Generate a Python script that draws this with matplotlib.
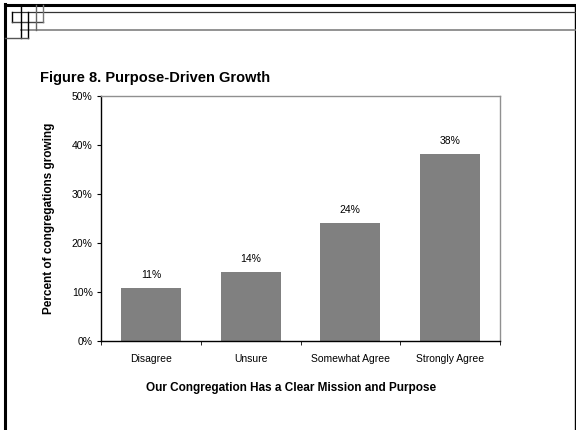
import matplotlib
matplotlib.use('Agg')
import matplotlib.pyplot as plt
from matplotlib.lines import Line2D
import numpy as np

plt.rcParams['font.family'] = ['Liberation Sans', 'DejaVu Sans']

# data
categories = ['Disagree', 'Unsure', 'Somewhat Agree', 'Strongly Agree']
growing = [10.9, 14.1, 24.1, 38.2]
yticks = [0, 10, 20, 30, 40, 50]

W, H = 576, 430
fig = plt.figure(figsize=(W / 100, H / 100), dpi=100)

# pixel -> figure coords helper for the frame decoration
def line(x0, y0, x1, y1, c='black', lw=1.0):
    fig.add_artist(Line2D([x0 / W, x1 / W], [1 - y0 / H, 1 - y1 / H],
                          color=c, lw=lw, transform=fig.transFigure))

# page frame
line(5, 5, 575, 5, lw=2.2)
line(5, 4, 5, 430, lw=2.2)
line(575, 5, 575, 430, lw=1.0)
line(12, 12, 575, 12, c='#333333', lw=0.9)
line(21, 30, 575, 30, c='#808080', lw=1.2)
# small squares in the corner
line(12, 12, 12, 22)
line(12, 22, 43, 22, c='#444444')
line(21, 5, 21, 38)
line(28, 12, 28, 38)
line(36, 5, 36, 30, c='#666666')
line(43, 5, 43, 22, c='#777777')
line(5, 38, 28, 38, c='#555555')

fig.text(40 / W, 1 - 78 / H, 'Figure 8. Purpose-Driven Growth',
         fontsize=10.5, fontweight='bold', va='center', ha='left')

ax = fig.add_axes([101 / W, 1 - 341 / H, 399 / W, 245 / H])
x = np.arange(len(categories))
bars = ax.bar(x, growing, width=0.6, color='#808080', zorder=2)
for b, v in zip(bars, growing):
    ax.annotate('%d%%' % round(v), (b.get_x() + b.get_width() / 2, v),
                xytext=(0, 5.5), textcoords='offset points',
                ha='center', va='bottom', fontsize=7.5)

ax.set_xlim(-0.5, len(categories) - 0.5)
ax.set_ylim(0, 50)
ax.set_yticks(yticks)
ax.set_yticklabels(['%d%%' % t for t in yticks], fontsize=7.5)
ax.set_xticks(x)
ax.set_xticklabels(categories, fontsize=7.5)
ax.set_xticks(np.arange(len(categories) + 1) - 0.5, minor=True)
ax.tick_params(axis='x', which='major', length=0, pad=9)
ax.tick_params(axis='x', which='minor', length=3, direction='out', color='black')
ax.tick_params(axis='y', length=3, direction='out', pad=3)

for s in ['left', 'bottom']:
    ax.spines[s].set_color('black')
    ax.spines[s].set_linewidth(1.0)
for s in ['top', 'right']:
    ax.spines[s].set_color('#909090')
    ax.spines[s].set_linewidth(1.0)

ax.set_ylabel('Percent of congregations growing', fontsize=8.5,
              fontweight='bold', labelpad=12)
fig.text(291 / W, 1 - 388 / H, 'Our Congregation Has a Clear Mission and Purpose',
         fontsize=8.5, fontweight='bold', ha='center', va='center')

fig.savefig('out.png', dpi=100)
